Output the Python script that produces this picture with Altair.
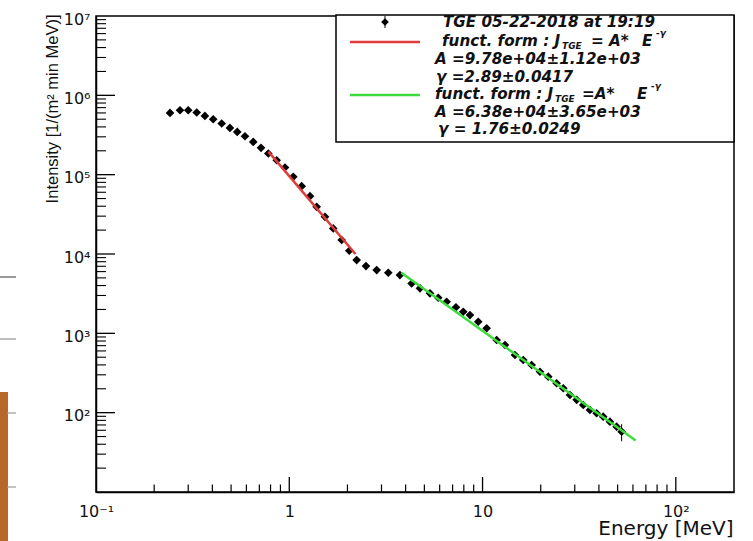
import altair as alt
import pandas as pd

# ---------------- data ----------------
ENERGY = [0.2415, 0.272, 0.300, 0.332, 0.366, 0.404, 0.447, 0.493, 0.538, 0.590,
          0.651, 0.714, 0.779, 0.861, 0.950, 1.049, 1.159, 1.280, 1.386, 1.530,
          1.689, 1.867, 2.044, 2.232, 2.494, 2.833, 3.253, 3.738, 4.298, 4.745,
          5.345, 5.900, 6.522, 7.285, 7.948, 8.606, 9.50, 10.50, 11.83, 13.06,
          14.71, 16.24, 17.95, 19.82, 21.88, 24.17, 26.16, 28.33, 30.69, 33.19,
          35.94, 38.93, 42.11, 45.61, 49.40, 52.44]
INTENSITY = [6.0e5, 6.49e5, 6.49e5, 6.07e5, 5.50e5, 5.0e5, 4.41e5, 3.88e5, 3.46e5, 3.05e5,
             2.59e5, 2.18e5, 1.85e5, 1.52e5, 1.23e5, 9.38e4, 7.16e4, 5.36e4, 3.93e4, 2.94e4,
             2.10e4, 1.50e4, 1.10e4, 8380, 7040, 6270, 5800, 5420, 4260, 3690,
             3190, 2810, 2500, 2130, 1870, 1700, 1400, 1160, 823, 712,
             533, 461, 399, 328, 284, 235, 203, 167, 145, 125,
             108, 98.3, 89.0, 77.0, 66.6, 57.6]
ERROR = [1.2e4, 1.3e4, 1.3e4, 1.2e4, 1.1e4, 1.0e4, 8800, 7800, 6900, 6100,
         5200, 4400, 3700, 3000, 2500, 1900, 1400, 1100, 790, 590,
         420, 300, 220, 170, 140, 130, 120, 110, 90, 80,
         70, 60, 55, 50, 45, 40, 35, 30, 25, 22,
         18, 16, 15, 13, 12, 11, 10, 9, 9, 8,
         8, 7, 7, 7, 7, 14]

# fit lines (end points)
RED_E = [0.78, 2.2]
RED_I = [1.95e5, 1.0e4]
GREEN_E = [3.8, 62]
GREEN_I = [5.8e3, 44.7]

# axis ticks / labels
X_LABEL_VALUES = [0.1, 1, 10, 100]
X_LABELS = ["10\u207b\u00b9", "1", "10", "10\u00b2"]
Y_LABEL_VALUES = [100, 1000, 10000, 100000, 1000000, 10000000]
Y_LABELS = ["10\u00b2", "10\u00b3", "10\u2074", "10\u2075", "10\u2076", "10\u2077"]
X_MAJOR = [1, 10, 100]
X_MINOR = [m * d for d in (0.1, 1, 10) for m in range(2, 10)]
Y_MAJOR = [100, 1000, 10000, 100000, 1000000]
Y_MINOR = [m * d for d in (10, 100, 1000, 10000, 100000, 1000000) for m in range(2, 10)]

# legend text
LEGEND_DATA = "TGE 05-22-2018 at 19:19"
FIT_PREFIX = "funct. form : J"
FIT_SUB = "TGE"
FIT_MID_1 = "= A*"
FIT_MID_2 = "=A*"
FIT_E = "E"
FIT_SUP = "-\u03b3"
RED_A = "A =9.78e+04\u00b11.12e+03"
RED_G = "\u03b3 =2.89\u00b10.0417"
GREEN_A = "A =6.38e+04\u00b13.65e+03"
GREEN_G = "\u03b3 = 1.76\u00b10.0249"

X_TITLE = "Energy [MeV]"
Y_TITLE = "Intensity [1/(m\u00b2 min MeV)]"

RED = "#e03c3c"
GREEN = "#3ddc3d"

# ---------------- chart ----------------
W, H = 638, 476


def label_expr(values, labels):
    vals = ",".join(repr(v) for v in values)
    labs = ",".join("'" + l + "'" for l in labels)
    return f"[{labs}][indexof([{vals}], datum.value)]"


xscale = alt.Scale(type="log", domain=[0.1, 200], nice=False)
yscale = alt.Scale(type="log", domain=[10, 1e7], nice=False)

xaxis = alt.Axis(values=X_LABEL_VALUES, labelExpr=label_expr(X_LABEL_VALUES, X_LABELS),
                 title=X_TITLE, ticks=False, grid=False, domainColor="black", domainWidth=1.5,
                 labelFont="DejaVu Sans", labelFontSize=16, labelColor="#111",
                 labelPadding=11, labelFlush=False, labelOverlap=False,
                 titleFont="DejaVu Sans", titleFontSize=20, titleFontWeight="normal",
                 titleColor="#111", titleX=637, titleY=42, titleAlign="right",
                 titleBaseline="alphabetic")
yaxis = alt.Axis(values=Y_LABEL_VALUES, labelExpr=label_expr(Y_LABEL_VALUES, Y_LABELS),
                 title=Y_TITLE, ticks=False, grid=False, domainColor="black", domainWidth=1.5,
                 labelFont="DejaVu Sans", labelFontSize=16, labelColor="#111",
                 labelPadding=6, labelOffset=3, labelAlign="right", labelBaseline="middle",
                 labelOverlap=False, labelFlush=False,
                 titleFont="Liberation Sans", titleFontSize=16.5, titleFontWeight="normal",
                 titleColor="#111", titleAngle=270, titleX=-39, titleY=-2,
                 titleAlign="right", titleBaseline="alphabetic")


def X(field):
    return alt.X(field, type="quantitative", scale=xscale, axis=xaxis)


def Y(field):
    return alt.Y(field, type="quantitative", scale=yscale, axis=yaxis)


df = pd.DataFrame({"E": ENERGY, "I": INTENSITY, "err": ERROR})
df["lo"] = df["I"] - df["err"]
df["hi"] = df["I"] + df["err"]

errbars = alt.Chart(df).mark_rule(color="black", strokeWidth=1).encode(
    x=X("E"), y=Y("lo"), y2=alt.Y2("hi"))
points = alt.Chart(df).mark_point(shape="diamond", filled=True, color="black",
                                  size=75, opacity=1).encode(x=X("E"), y=Y("I"))

red_line = alt.Chart(pd.DataFrame({"E": RED_E, "I": RED_I})).mark_line(
    color=RED, strokeWidth=2.5).encode(x=X("E"), y=Y("I"))
green_line = alt.Chart(pd.DataFrame({"E": GREEN_E, "I": GREEN_I})).mark_line(
    color=GREEN, strokeWidth=2.5).encode(x=X("E"), y=Y("I"))

# inside ticks (ROOT style)
xmaj = alt.Chart(pd.DataFrame({"E": X_MAJOR})).mark_rule(color="black", strokeWidth=1.3).encode(
    x=X("E"), y=alt.value(H), y2=alt.value(H - 15))
xmin = alt.Chart(pd.DataFrame({"E": X_MINOR})).mark_rule(color="black", strokeWidth=1.2).encode(
    x=X("E"), y=alt.value(H), y2=alt.value(H - 7.5))
ymaj = alt.Chart(pd.DataFrame({"I": Y_MAJOR})).mark_rule(color="black", strokeWidth=1.3).encode(
    y=Y("I"), x=alt.value(0), x2=alt.value(19))
ymin = alt.Chart(pd.DataFrame({"I": Y_MINOR})).mark_rule(color="black", strokeWidth=1.1).encode(
    y=Y("I"), x=alt.value(0), x2=alt.value(10))

one = pd.DataFrame({"k": [0]})

# legend box
box = alt.Chart(one).mark_rect(fill="white", stroke="black", strokeWidth=1.5).encode(
    x=alt.value(240), x2=alt.value(638), y=alt.value(-1), y2=alt.value(126))
leg_red = alt.Chart(one).mark_rule(color=RED, strokeWidth=2.5).encode(
    x=alt.value(254), x2=alt.value(324), y=alt.value(26))
leg_green = alt.Chart(one).mark_rule(color=GREEN, strokeWidth=2.5).encode(
    x=alt.value(254), x2=alt.value(324), y=alt.value(79))
leg_err = alt.Chart(one).mark_rule(color="black", strokeWidth=1).encode(
    x=alt.value(289), y=alt.value(0), y2=alt.value(12))
leg_pt = alt.Chart(one).mark_point(shape="diamond", filled=True, color="black",
                                   size=60, opacity=1).encode(x=alt.value(289), y=alt.value(6))


def txt(s, x, y, size=15.2):
    return alt.Chart(one).mark_text(
        text=s, font="DejaVu Sans", fontStyle="italic", fontWeight="bold",
        fontSize=size, color="#111", align="left", baseline="middle"
    ).encode(x=alt.value(x), y=alt.value(y))


texts = [
    txt(LEGEND_DATA, 347, 6),
    txt(FIT_PREFIX, 346, 25), txt(FIT_SUB, 466, 30, 9), txt(FIT_MID_1, 495, 25),
    txt(FIT_E, 546, 25), txt(FIT_SUP, 560, 17, 9),
    txt(RED_A, 339, 43),
    txt(RED_G, 340, 61),
    txt(FIT_PREFIX, 339, 78), txt(FIT_SUB, 459, 83, 9), txt(FIT_MID_2, 486, 78),
    txt(FIT_E, 541, 78), txt(FIT_SUP, 555, 70, 9),
    txt(GREEN_A, 339, 96),
    txt(GREEN_G, 342, 113),
]

# scanning artefacts at the left edge of the picture
deco = [
    alt.Chart(one).mark_rule(color="#777", strokeWidth=1.5).encode(
        x=alt.value(-96), x2=alt.value(-80), y=alt.value(261)),
    alt.Chart(one).mark_rule(color="#aaa", strokeWidth=1.5).encode(
        x=alt.value(-96), x2=alt.value(-80), y=alt.value(323)),
    alt.Chart(one).mark_rect(color="#b8692a").encode(
        x=alt.value(-96), x2=alt.value(-88), y=alt.value(376), y2=alt.value(525)),
    alt.Chart(one).mark_rule(color="#999", strokeWidth=1.2).encode(
        x=alt.value(-89), x2=alt.value(-80), y=alt.value(397)),
    alt.Chart(one).mark_rule(color="#999", strokeWidth=1.2).encode(
        x=alt.value(-89), x2=alt.value(-80), y=alt.value(471)),
]

chart = alt.layer(
    errbars, points, red_line, green_line, xmaj, xmin, ymaj, ymin,
    box, leg_red, leg_green, leg_err, leg_pt, *texts, *deco
).properties(
    width=W, height=H,
    autosize=alt.AutoSizeParams(type="none"),
    padding={"left": 96, "top": 16, "right": 19, "bottom": 49},
    background="white",
).configure_view(stroke="black", strokeWidth=1.5)

chart.save("out.html", embed_options={"renderer": "svg", "actions": False})
